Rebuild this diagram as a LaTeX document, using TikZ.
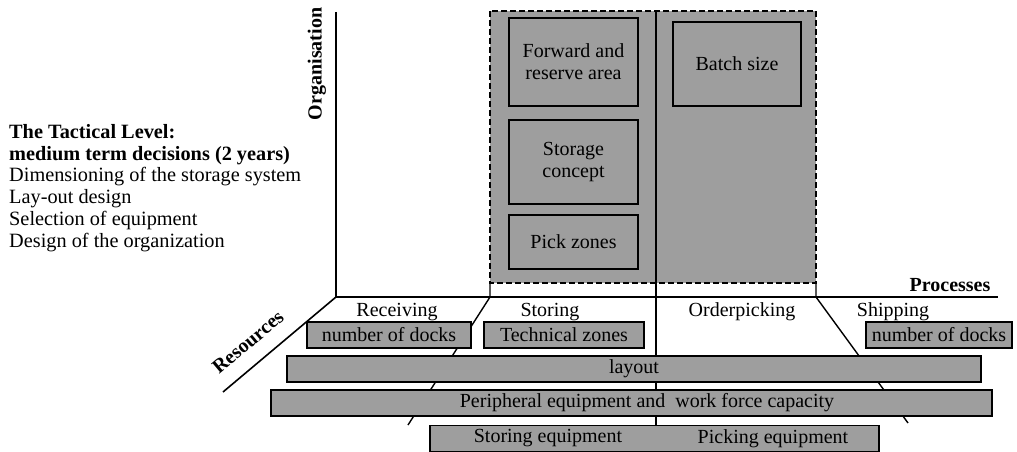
\documentclass[tikz,border=0pt]{standalone}
\usepackage{fontspec}
\setmainfont{Liberation Serif}
\definecolor{halftone}{RGB}{158,158,158}
\begin{document}
\begin{tikzpicture}[x=1pt,y=-1pt,
  txt/.style={font=\fontsize{20}{21.8}\selectfont\rmfamily, inner sep=0pt},
  btxt/.style={font=\fontsize{20}{21.8}\selectfont\rmfamily\bfseries, inner sep=0pt},
  axis/.style={line width=1.6pt},
  sep/.style={line width=1.4pt},
  obox/.style={draw, line width=1.4pt, fill=halftone, inner sep=0pt, align=center,
    font=\fontsize{20}{22}\selectfont\rmfamily},
  bar/.style={draw, line width=1.4pt, fill=halftone, inner sep=0pt,
    minimum height=26pt, font=\fontsize{20}{22}\selectfont\rmfamily}]
\useasboundingbox (0,0) rectangle (1017,452);

% left description
\node[txt, anchor=west, align=left, font=\fontsize{20.3}{21.8}\selectfont\rmfamily] (desc) at (9,188)
  {\textbf{The Tactical Level:}\\
   \textbf{medium term decisions (2 years)}\\
   Dimensioning of the storage system\\
   Lay-out design\\
   Selection of equipment\\
   Design of the organization};

% axis coordinates
\coordinate (O) at (336,297);
\coordinate (otop) at (336,12);
\coordinate (pend) at (998,297);
\coordinate (rend) at (223,392);
\coordinate (s1top) at (490,283);
\coordinate (s1) at (490,297);
\coordinate (s1end) at (408,425);
\coordinate (s2top) at (656,11);
\coordinate (s2end) at (656,425);
\coordinate (s3top) at (816,283);
\coordinate (s3) at (816,297);
\coordinate (s3end) at (908,423);
\coordinate (gtl) at (490,11);
\coordinate (gbr) at (816,283);

% shaded organisation region
\fill[fill=halftone] (gtl) rectangle (gbr);
\draw[line width=1.6pt, dash pattern=on 6pt off 3pt] (gtl) rectangle (gbr);

% axes
\draw[axis] (otop) -- (O) -- (pend);
\draw[axis] (O) -- (rend);

% column separators
\draw[sep] (s1top) -- (s1) -- (s1end);
\draw[sep] (s2top) -- (s2end);
\draw[sep] (s3top) -- (s3) -- (s3end);

% axis labels
\node[btxt, rotate=90] (org) at (317,64) {Organisation};
\node[btxt] (proc) at (950,285) {Processes};
\node[btxt, rotate=40] (res) at (248,342) {Resources};

% column labels
\node[txt] (recv) at (397,312) {Receiving};
\node[txt] (storl) at (550,312) {Storing};
\node[txt] (ordl) at (742,312) {Orderpicking};
\node[txt] (shipl) at (893,312) {Shipping};

% organisation boxes
\node[obox, minimum width=129pt, minimum height=88pt] (fwd) at (573.5,62)
  {Forward and\\reserve area};
\node[obox, minimum width=129pt, minimum height=84pt] (stc) at (573.5,162)
  {Storage\\concept};
\node[obox, minimum width=129pt, minimum height=54pt] (pz) at (573.5,242)
  {Pick zones};
\node[obox, minimum width=128pt, minimum height=84pt] (bs) at (737,64)
  {Batch size};

% resource bars
\node[bar, minimum width=164pt] (dock1) at (389,335) {number of docks};
\node[bar, minimum width=160pt] (tech) at (564,335) {Technical zones};
\node[bar, minimum width=146pt] (dock2) at (939,335) {number of docks};
\node[bar, minimum width=694pt] (lay) at (634,369) {layout};
\node[bar, minimum width=721pt] (peri) at (631.5,403) {};
\node[txt] (peril) at (647,403) {Peripheral equipment and\ \ work force capacity};
\node[bar, minimum width=449pt] (equip) at (654.5,438.5) {};
\node[txt] (steq) at (548,438.5) {Storing equipment};
\node[txt] (pieq) at (773,438.5) {Picking equipment};
\end{tikzpicture}
\end{document}
